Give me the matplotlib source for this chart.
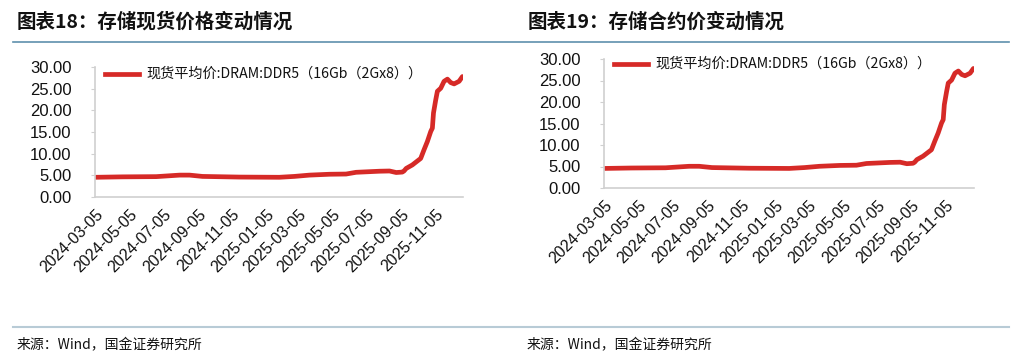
import matplotlib
matplotlib.use("Agg")
import matplotlib.pyplot as plt
from matplotlib.lines import Line2D
import pandas as pd

plt.rcParams['font.family'] = ['Liberation Sans', 'Noto Sans CJK SC', 'DejaVu Sans']

# ── Data ──────────────────────────────────────────────────────────────────────

dates = [
    "2024-03-05", "2024-04-22", "2024-06-22", "2024-08-03", "2024-08-21",
    "2024-09-13", "2024-11-18", "2025-01-29", "2025-02-25", "2025-03-24",
    "2025-04-29", "2025-05-29", "2025-06-16", "2025-07-28", "2025-08-15",
    "2025-08-27", "2025-09-07", "2025-09-10", "2025-09-14", "2025-09-25",
    "2025-10-10", "2025-10-16", "2025-10-22", "2025-10-28", "2025-10-31",
    "2025-11-02", "2025-11-06", "2025-11-09", "2025-11-15", "2025-11-21",
    "2025-11-27", "2025-12-03", "2025-12-09", "2025-12-18", "2025-12-24",
]
price = [
    4.55, 4.65, 4.70, 5.05, 5.05,
    4.75, 4.60, 4.55, 4.75, 5.05,
    5.25, 5.30, 5.70, 5.95, 6.00,
    5.65, 5.75, 6.00, 6.60, 7.40,
    8.90, 10.90, 12.80, 15.10, 15.90,
    19.40, 22.40, 24.40, 25.10, 26.70,
    27.20, 26.40, 26.10, 26.70, 27.80,
]

tick_dates = ["2024-03-05", "2024-05-05", "2024-07-05", "2024-09-05",
              "2024-11-05", "2025-01-05", "2025-03-05", "2025-05-05",
              "2025-07-05", "2025-09-05", "2025-11-05"]
yticks = [0, 5, 10, 15, 20, 25, 30]

series_label = "现货平均价:DRAM:DDR5（16Gb（2Gx8））"
titles = ["图表18：存储现货价格变动情况", "图表19：存储合约价变动情况"]
source = "来源：Wind，国金证券研究所"

# ── Style ─────────────────────────────────────────────────────────────────────

RED = "#d62a27"
SPINE = "#d0d0d0"
TEXT = "#111111"
TITLE_LINE = "#5f90ad"
FOOT_LINE = "#b8cbd6"
CJK = ["Noto Sans CJK SC", "DejaVu Sans"]

x = pd.to_datetime(dates)
xt = pd.to_datetime(tick_dates)

fig = plt.figure(figsize=(10.24, 3.61), dpi=100)

W, H = 1024, 361
# axes boxes in pixels: left, top(30), right, bottom(0)
boxes = [(95, 67, 463, 197), (604, 59, 974, 188)]
title_x = [17, 528]
source_x = [17, 527]
legend_pos = [(105, 74), (614, 64)]

for i, (l, t, r, b) in enumerate(boxes):
    ax = fig.add_axes([l / W, 1 - b / H, (r - l) / W, (b - t) / H])
    ax.plot(x, price, color=RED, lw=3.4, solid_capstyle="round")
    ax.set_xlim(x[0] - pd.Timedelta(days=1), x[-1] + pd.Timedelta(days=1))
    ax.set_ylim(0, 30)
    ax.set_yticks(yticks)
    ax.set_yticklabels([f"{v:.2f}" for v in yticks], fontsize=12, color=TEXT)
    ax.set_xticks(xt)
    ax.set_xticklabels([d.strftime("%Y-%m-%d") for d in xt], rotation=45,
                       ha="right", rotation_mode="anchor", fontsize=11.5, color=TEXT)
    ax.tick_params(axis="x", length=0, pad=7)
    ax.tick_params(axis="y", length=3, color=SPINE, pad=14)
    for side in ("top", "right"):
        ax.spines[side].set_visible(False)
    for side in ("left", "bottom"):
        ax.spines[side].set_color(SPINE)
        ax.spines[side].set_linewidth(1.2)

    # legend, drawn as a line + text in the upper left
    lx, ly = legend_pos[i]
    fig.add_artist(Line2D([lx / W, (lx + 34) / W], [1 - ly / H, 1 - ly / H],
                          color=RED, lw=3.4, transform=fig.transFigure))
    fig.text((lx + 41) / W, 1 - ly / H, series_label, fontsize=10.2,
             color=TEXT, va="center", ha="left", family=CJK)

    fig.text(title_x[i] / W, 1 - 22 / H, titles[i], fontsize=14, weight="bold",
             style="italic", color=TEXT, va="center", ha="left", family=CJK)
    fig.text(source_x[i] / W, 1 - 345 / H, source, fontsize=10, color=TEXT,
             va="center", ha="left", family=CJK)

# header and footer rules
fig.add_artist(Line2D([13 / W, 1009 / W], [1 - 42 / H, 1 - 42 / H],
                      color=TITLE_LINE, lw=1.2, transform=fig.transFigure))
fig.add_artist(Line2D([13 / W, 1009 / W], [1 - 327 / H, 1 - 327 / H],
                      color=FOOT_LINE, lw=1.5, transform=fig.transFigure))

fig.savefig("out.png", dpi=100, facecolor="white")
